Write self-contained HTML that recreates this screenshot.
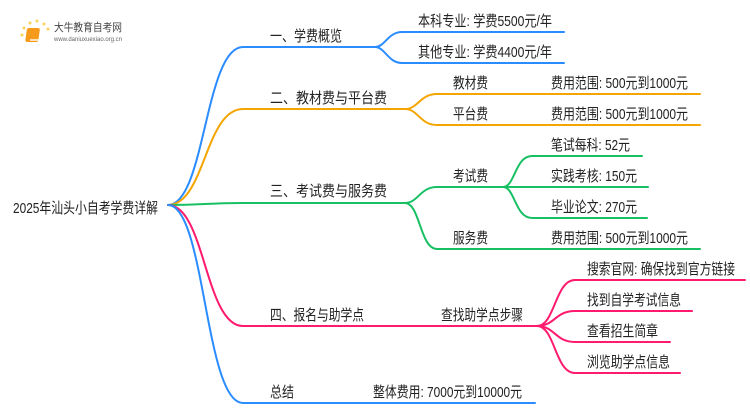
<!DOCTYPE html>
<html><head><meta charset="utf-8"><style>
body{margin:0;background:#fff;}
svg{display:block;}
text{font-family:"Liberation Sans","Noto Sans CJK SC",sans-serif;font-size:15px;fill:#222;}
</style></head><body>
<svg width="750" height="410" viewBox="0 0 750 410" xmlns="http://www.w3.org/2000/svg">
<g fill="none" stroke-width="2" stroke-linecap="round">
<path d="M168 205 C205 205 205 47 243 47 L375 47" stroke="#2a8cff"/>
<path d="M375 47 C385 47 388 32 402 32 L564 32 M375 47 C385 47 388 63 402 63 L564 63" stroke="#2a8cff"/>
<path d="M168 205 C205 205 205 109 243 109 L405 109" stroke="#f5a500"/>
<path d="M405 109 C418 109 420 94 437 94 L700 94 M405 109 C418 109 420 125 437 125 L700 125" stroke="#f5a500"/>
<path d="M168 205 C205 205 205 203 243 203 L405 203" stroke="#18c064"/>
<path d="M405 203 C418 203 420 187 437 187 L503 187 M405 203 C420 203 420 249 437 249 L700 249" stroke="#18c064"/>
<path d="M503 187 C515 187 515 156 532 156 L642 156 M503 187 L648 187 M503 187 C515 187 515 218 532 218 L647 218" stroke="#18c064"/>
<path d="M168 205 C205 205 205 326 243 326 L537 326" stroke="#ff1a6e"/>
<path d="M537 326 C555 326 555 280 575 280 L745 280 M537 326 C555 326 555 311 575 311 L692 311 M537 326 C555 326 555 342 575 342 L670 342 M537 326 C555 326 555 373 575 373 L680 373" stroke="#ff1a6e"/>
<path d="M168 205 C205 205 205 403 243 403 L535 403" stroke="#2a8cff"/>
</g>
<g>
<circle cx="24" cy="28" r="1.5" fill="#fbd35a"/><circle cx="30" cy="23" r="1.5" fill="#fbd35a"/><circle cx="37" cy="21" r="1.5" fill="#fbd35a"/><circle cx="44" cy="24" r="1.5" fill="#fbd35a"/><circle cx="48" cy="29" r="1.5" fill="#fbd35a"/><circle cx="22" cy="35" r="1.5" fill="#fbd35a"/>
<rect x="31" y="28" width="13" height="14" rx="2" fill="#f59a1a" transform="skewX(-8)"/>
<rect x="30" y="39" width="12" height="2" fill="#fff" opacity="0.7"/>
<text x="54" y="31" style="font-size:11px;fill:#444" textLength="68" lengthAdjust="spacingAndGlyphs">大牛教育自考网</text>
<text x="54" y="41" style="font-size:6px;fill:#666" textLength="68" lengthAdjust="spacingAndGlyphs">www.daniuxuexiao.org.cn</text>
</g>
<g>
<text x="13" y="213" textLength="145" lengthAdjust="spacingAndGlyphs">2025年汕头小自考学费详解</text>
<text x="270" y="41" textLength="72" lengthAdjust="spacingAndGlyphs">一、学费概览</text>
<text x="418" y="26" textLength="134" lengthAdjust="spacingAndGlyphs">本科专业: 学费5500元/年</text>
<text x="418" y="57" textLength="134" lengthAdjust="spacingAndGlyphs">其他专业: 学费4400元/年</text>
<text x="270" y="103" textLength="117" lengthAdjust="spacingAndGlyphs">二、教材费与平台费</text>
<text x="453" y="88" textLength="35" lengthAdjust="spacingAndGlyphs">教材费</text>
<text x="453" y="119" textLength="35" lengthAdjust="spacingAndGlyphs">平台费</text>
<text x="551" y="88" textLength="137" lengthAdjust="spacingAndGlyphs">费用范围: 500元到1000元</text>
<text x="551" y="119" textLength="137" lengthAdjust="spacingAndGlyphs">费用范围: 500元到1000元</text>
<text x="270" y="196" textLength="117" lengthAdjust="spacingAndGlyphs">三、考试费与服务费</text>
<text x="453" y="181" textLength="35" lengthAdjust="spacingAndGlyphs">考试费</text>
<text x="453" y="243" textLength="35" lengthAdjust="spacingAndGlyphs">服务费</text>
<text x="551" y="150" textLength="79" lengthAdjust="spacingAndGlyphs">笔试每科: 52元</text>
<text x="551" y="181" textLength="86" lengthAdjust="spacingAndGlyphs">实践考核: 150元</text>
<text x="551" y="212" textLength="86" lengthAdjust="spacingAndGlyphs">毕业论文: 270元</text>
<text x="551" y="243" textLength="137" lengthAdjust="spacingAndGlyphs">费用范围: 500元到1000元</text>
<text x="270" y="320" textLength="94" lengthAdjust="spacingAndGlyphs">四、报名与助学点</text>
<text x="441" y="320" textLength="82" lengthAdjust="spacingAndGlyphs">查找助学点步骤</text>
<text x="587" y="274" textLength="148" lengthAdjust="spacingAndGlyphs">搜索官网: 确保找到官方链接</text>
<text x="587" y="305" textLength="94" lengthAdjust="spacingAndGlyphs">找到自学考试信息</text>
<text x="587" y="336" textLength="71" lengthAdjust="spacingAndGlyphs">查看招生简章</text>
<text x="587" y="367" textLength="83" lengthAdjust="spacingAndGlyphs">浏览助学点信息</text>
<text x="270" y="397" textLength="24" lengthAdjust="spacingAndGlyphs">总结</text>
<text x="373" y="397" textLength="149" lengthAdjust="spacingAndGlyphs">整体费用: 7000元到10000元</text>
</g>
</svg>
</body></html>
